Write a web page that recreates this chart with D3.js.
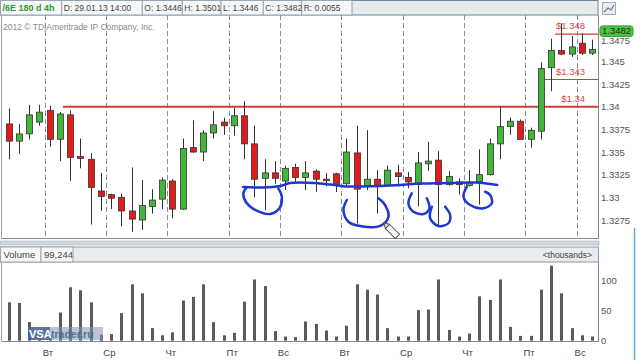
<!DOCTYPE html>
<html><head><meta charset="utf-8">
<script src="https://cdn.jsdelivr.net/npm/d3@7"></script>
<style>
html,body{margin:0;padding:0;background:#fff;overflow:hidden}
svg{display:block;font-family:"Liberation Sans",Arial,sans-serif}
</style>
</head><body>
<svg id="c" width="640" height="360"></svg>
<script>
// ---------- DATA ----------
const opens  = [1.3381,1.3362,1.3370,1.3383,1.3396,1.3364,1.3391,1.3345,1.3342,1.3307,
                1.3303,1.3300,1.3285,1.3275,1.3290,1.3298,1.3318,1.3287,1.3355,1.3350,
                1.3371,1.3383,1.3379,1.3390,1.3359,1.3321,1.3327,1.3318,1.3333,1.3322,
                1.3329,1.3320,1.3326,1.3315,1.3349,1.3312,1.3320,1.3313,1.3327,1.3322,
                1.3314,1.3337,1.3341,1.3314,1.3317,1.3313,1.3317,1.3325,1.3359,1.3378,
                1.3384,1.3364,1.3373,1.3443,1.3462,1.3458,1.3470,1.3459];
const highs  = [1.3398,1.3381,1.3402,1.3402,1.3401,1.3394,1.3396,1.3365,1.3349,1.3327,
                1.3304,1.3304,1.3333,1.3319,1.3309,1.3322,1.3320,1.3365,1.3385,1.3374,
                1.3395,1.3388,1.3399,1.3406,1.3379,1.3342,1.3340,1.3335,1.3337,1.3340,
                1.3331,1.3327,1.3327,1.3365,1.3379,1.3374,1.3330,1.3335,1.3336,1.3328,
                1.3350,1.3361,1.3351,1.3329,1.3321,1.3330,1.3353,1.3365,1.3400,1.3388,
                1.3386,1.3377,1.3449,1.3475,1.3492,1.3478,1.3481,1.3474];
const lows   = [1.3342,1.3348,1.3364,1.3379,1.3356,1.3340,1.3318,1.3332,1.3270,1.3285,
                1.3287,1.3268,1.3262,1.3264,1.3282,1.3287,1.3277,1.3286,1.3349,1.3340,
                1.3365,1.3369,1.3368,1.3342,1.3300,1.3286,1.3315,1.3308,1.3315,1.3308,
                1.3306,1.3312,1.3306,1.3312,1.3271,1.3308,1.3282,1.3312,1.3312,1.3310,
                1.3290,1.3329,1.3268,1.3313,1.3303,1.3312,1.3292,1.3324,1.3342,1.3369,
                1.3364,1.3355,1.3364,1.3417,1.3457,1.3455,1.3457,1.3457];
const closes = [1.3362,1.3370,1.3391,1.3394,1.3364,1.3392,1.3344,1.3343,1.3311,1.3301,
                1.3299,1.3285,1.3276,1.3291,1.3297,1.3319,1.3287,1.3354,1.3350,1.3371,
                1.3380,1.3379,1.3390,1.3359,1.3320,1.3327,1.3321,1.3332,1.3322,1.3327,
                1.3320,1.3319,1.3314,1.3350,1.3309,1.3320,1.3312,1.3330,1.3323,1.3317,
                1.3338,1.3340,1.3314,1.3323,1.3314,1.3316,1.3325,1.3359,1.3378,1.3384,
                1.3364,1.3374,1.3442,1.3462,1.3458,1.3466,1.3459,1.3463];
const volumes = [64,63,31,8,10,47,89,84,64,10,
                 11,46,94,79,21,9,14,67,73,94,
                 31,9,13,65,102,91,16,7,6,32,
                 28,17,7,25,94,85,77,21,7,7,
                 51,52,102,18,7,12,74,68,102,23,
                 8,8,85,125,79,21,9,7];
const dayLabels = ["Вт","Ср","Чт","Пт","Вс","Вт","Ср","Чт","Пт","Вс"];
const dayBreaks = [3.5,9.5,15.5,21.5,26.5,32.5,38.5,44.5,50.5,55.5];
const priceTicks = [1.3275,1.33,1.3325,1.335,1.3375,1.34,1.3425,1.345,1.3475];
const priceTickLabels = ["1.3275","1.33","1.3325","1.335","1.3375","1.34","1.3425","1.345","1.3475"];
const volTicks = [0,50,100];
const levelPrices = [1.34,1.343,1.348];
const levelFrom = [5.3,52.2,53.4];
const levelLabels = ["$1.34","$1.343","$1.348"];
const lastPrice = 1.3482;
const headerCells = ["/6E 180 d 4h","D: 29.01.13 14:00","O: 1.3446","H: 1.3501","L: 1.3446","C: 1.3482","R: 0.0055"];
const volumeHeader = ["Volume","99,244"];
const copyright = "2012 © TD|Ameritrade IP Company, Inc.";
// freehand annotations, in [candle index, price]
const annoLine = [[22.90,1.33114],[24.76,1.33109],[26.52,1.33125],[27.50,1.33158],[29.94,1.33158],
                  [31.41,1.33142],[32.87,1.33120],[34.34,1.33120],[36.29,1.33125],[38.25,1.33136],
                  [40.20,1.33153],[43.14,1.33158],[45.58,1.33164],[47.73,1.33136]];
const annoLoops = [
  [[23.27,1.33111],[22.93,1.33045],[23.27,1.32934],[24.24,1.32853],[25.54,1.32816],[26.45,1.32879],[26.69,1.33007],[26.35,1.33100]],
  [[33.04,1.32971],[32.71,1.32860],[33.20,1.32731],[34.34,1.32684],[36.30,1.32684],[37.11,1.32786],[36.78,1.32915],[36.13,1.32989]],
  [[39.39,1.33045],[39.06,1.32934],[39.55,1.32842],[40.53,1.32816],[41.11,1.32879],[40.86,1.32989]],
  [[41.35,1.32897],[41.18,1.32769],[41.99,1.32684],[42.97,1.32714],[43.14,1.32805],[42.65,1.32897]],
  [[44.77,1.33117],[44.44,1.33007],[45.09,1.32915],[46.39,1.32879],[47.21,1.32934],[47.05,1.33026],[46.56,1.33062]]
];

// ---------- SCALES ----------
const svg = d3.select("#c");
const x = d3.scaleLinear().domain([0, opens.length-1]).range([8.7, 592]);
const y = d3.scaleLinear().domain([1.3275, 1.34]).range([220, 106.7]);
const yv = d3.scaleLinear().domain([0, 100]).range([340.7, 280.7]);
const PR = 598; // right edge of plot panels
const candles = opens.map((o,i)=>({i,o,h:highs[i],l:lows[i],c:closes[i],v:volumes[i]}));

svg.append("rect").attr("width",640).attr("height",360).attr("fill","#fff");

// ---------- HEADER ----------
const hdr = svg.append("g");
hdr.append("rect").attr("x",0.5).attr("y",0.5).attr("width",PR-0.5).attr("height",14.5)
  .attr("fill","#e8ebee").attr("stroke","#6f8595");
const cellX = [0.5,61.7,142.3,182.3,221,263.3,301.7,352];
headerCells.forEach((t,k)=>{
  hdr.append("rect").attr("x",cellX[k]).attr("y",0.5).attr("width",cellX[k+1]-cellX[k]).attr("height",14.5)
    .attr("fill","#f6f7f8").attr("stroke","#9aa6b0");
});
headerCells.forEach((t,k)=>{
  hdr.append("text").attr("x",cellX[k]+2).attr("y",11).attr("font-size",k===0?9:8.5)
    .attr("font-weight",k===0?"bold":"normal").attr("fill",k===0?"#2f9a2f":"#444").text(t);
});

// ---------- MAIN PANEL ----------
svg.append("line").attr("x1",1.5).attr("x2",1.5).attr("y1",15).attr("y2",239).attr("stroke","#9aa4ac");
svg.append("line").attr("x1",1.5).attr("x2",PR).attr("y1",238.5).attr("y2",238.5).attr("stroke","#7d8a94");
svg.append("line").attr("x1",PR+0.5).attr("x2",PR+0.5).attr("y1",15).attr("y2",239).attr("stroke","#7d8a94");

svg.append("text").attr("x",3).attr("y",30).attr("font-size",8.5).attr("fill","#8a8a8a").text(copyright);

// day separators
svg.append("g").selectAll("line").data(dayBreaks).join("line")
  .attr("x1",d=>Math.round(x(d))+0.5).attr("x2",d=>Math.round(x(d))+0.5)
  .attr("y1",15).attr("y2",238).attr("stroke","#8c8c8c").attr("stroke-dasharray","5,3");

// level lines
levelPrices.forEach((p,k)=>{
  svg.append("line").attr("x1",x(levelFrom[k])).attr("x2",PR).attr("y1",y(p)).attr("y2",y(p))
    .attr("stroke","#d23c32").attr("stroke-width",k===0?2:1.2);
  svg.append("text").attr("x",585).attr("y",y(p)-5).attr("text-anchor","end")
    .attr("font-size",9.5).attr("fill","#d44a44").text(levelLabels[k]);
});

// candles
const cg = svg.append("g");
cg.selectAll("line").data(candles).join("line")
  .attr("x1",d=>Math.round(x(d.i))+0.5).attr("x2",d=>Math.round(x(d.i))+0.5)
  .attr("y1",d=>y(d.h)).attr("y2",d=>y(d.l)).attr("stroke","#333").attr("stroke-width",1);
cg.selectAll("rect").data(candles).join("rect")
  .attr("x",d=>Math.round(x(d.i))-2.5).attr("width",6)
  .attr("y",d=>y(Math.max(d.o,d.c)))
  .attr("height",d=>Math.max(1.5,Math.abs(y(d.o)-y(d.c))))
  .attr("fill",d=>d.c<d.o?"#e21c1c":"#3fb83a").attr("stroke","#3a3030").attr("stroke-width",0.8);

// annotations
const toPt = d=>[x(d[0]), y(d[1])];
const annoG = svg.append("g").attr("fill","none").attr("stroke","#1f37d2").attr("stroke-width",2.5)
  .attr("stroke-linecap","round").attr("stroke-linejoin","round");
annoG.append("path").attr("d", d3.line().curve(d3.curveCatmullRom)(annoLine.map(toPt)));
annoLoops.forEach(L=>annoG.append("path").attr("d", d3.line().curve(d3.curveCatmullRom)(L.map(toPt))));
// pencil cursor
const pen = svg.append("g").attr("transform","translate(391,230) rotate(135)");
pen.append("rect").attr("x",-3).attr("y",-9).attr("width",6).attr("height",14).attr("fill","#fff").attr("stroke","#555");
pen.append("path").attr("d","M-3,5 L0,10 L3,5 Z").attr("fill","#ddd").attr("stroke","#555");

// price axis
const pa = svg.append("g").attr("transform",`translate(${PR},0)`)
  .call(d3.axisRight(y).tickValues(priceTicks).tickSize(0).tickPadding(3)
    .tickFormat((d,i)=>priceTickLabels[i]));
pa.select(".domain").remove();
pa.selectAll("text").attr("font-size",9.5).attr("fill","#555").attr("font-family","Liberation Sans, Arial");
pa.selectAll(".tick text").filter((d)=>d===1.3475).attr("dy","0.55em");

// last price box
svg.append("rect").attr("x",600).attr("y",y(lastPrice)-6.5).attr("width",33).attr("height",10.5).attr("rx",2.5)
  .attr("fill","#4cc63c").attr("stroke","#2e9a2a");
svg.append("text").attr("x",616.5).attr("y",y(lastPrice)+2).attr("text-anchor","middle")
  .attr("font-size",9.5).attr("fill","#1c2a1c").text(lastPrice.toFixed(4));

// icon top right
svg.append("rect").attr("x",602.5).attr("y",2.5).attr("width",13).attr("height",12).attr("fill","#e9edf0").attr("stroke","#a4adb4");
svg.append("path").attr("d","M604,12 L608,8 L611,10 L614,5").attr("fill","none").attr("stroke","#6c7a86").attr("stroke-width",1.2);

// ---------- PANEL SEPARATOR ----------
svg.append("rect").attr("x",0).attr("y",241).attr("width",PR+1).attr("height",4).attr("fill","#cfd6dc").attr("stroke","#aab4bc").attr("stroke-width",0.6);

// ---------- VOLUME HEADER ----------
svg.append("rect").attr("x",0.5).attr("y",247).attr("width",PR).attr("height",15).attr("fill","#e9ecef").attr("stroke","#8c9aa4");
const vcX=[0.5,41,73];
volumeHeader.forEach((t,k)=>{
  svg.append("rect").attr("x",vcX[k]).attr("y",247).attr("width",vcX[k+1]-vcX[k]).attr("height",15)
    .attr("fill","#f6f7f8").attr("stroke","#9aa6b0");
  svg.append("text").attr("x",vcX[k]+3).attr("y",258).attr("font-size",9.5).attr("fill","#444").text(t);
});
svg.append("text").attr("x",592).attr("y",258).attr("text-anchor","end").attr("font-size",8.5).attr("fill","#444").text("<thousands>");

// ---------- VOLUME PANEL ----------
svg.append("line").attr("x1",1.5).attr("x2",1.5).attr("y1",262).attr("y2",341).attr("stroke","#9aa4ac");
svg.append("line").attr("x1",PR+0.5).attr("x2",PR+0.5).attr("y1",262).attr("y2",342).attr("stroke","#7d8a94");
svg.append("line").attr("x1",1.5).attr("x2",PR).attr("y1",341.5).attr("y2",341.5).attr("stroke","#7d8a94");

svg.append("g").selectAll("rect").data(candles).join("rect")
  .attr("x",d=>Math.round(x(d.i))-1).attr("width",3)
  .attr("y",d=>yv(d.v)).attr("height",d=>yv(0)-yv(d.v)).attr("fill","#5a5a5a");

const va = svg.append("g").attr("transform",`translate(${PR},0)`)
  .call(d3.axisRight(yv).tickValues(volTicks).tickSize(0).tickPadding(3));
va.select(".domain").remove();
va.selectAll("text").attr("font-size",9.5).attr("fill","#555").attr("font-family","Liberation Sans, Arial");

// day axis
const da = svg.append("g").attr("transform","translate(3,343)")
  .call(d3.axisBottom(x).tickValues(dayBreaks).tickSize(0).tickPadding(6).tickFormat((d,i)=>dayLabels[i]));
da.select(".domain").remove();
da.selectAll("text").attr("font-size",9.5).attr("fill","#444").attr("font-family","Liberation Sans, Arial");

// watermark
const wm = svg.append("g");
wm.append("rect").attr("x",28).attr("y",327).attr("width",75).attr("height",13).attr("fill","#7f93b5").attr("opacity",0.55);
wm.append("rect").attr("x",28).attr("y",327).attr("width",22).attr("height",13).attr("fill","#3e5c8e").attr("opacity",0.75);
wm.append("text").attr("x",29).attr("y",338).attr("font-size",11).attr("font-weight","bold").attr("fill","#fff").text("VSA");
wm.append("text").attr("x",51).attr("y",338).attr("font-size",10.5).attr("font-weight","bold").attr("fill","#4a6494").attr("opacity",0.85).text("trader.ru");

// right window frame
svg.append("line").attr("x1",634.5).attr("x2",634.5).attr("y1",228).attr("y2",360).attr("stroke","#6aa8d0").attr("stroke-width",1.5);
</script>
</body></html>
